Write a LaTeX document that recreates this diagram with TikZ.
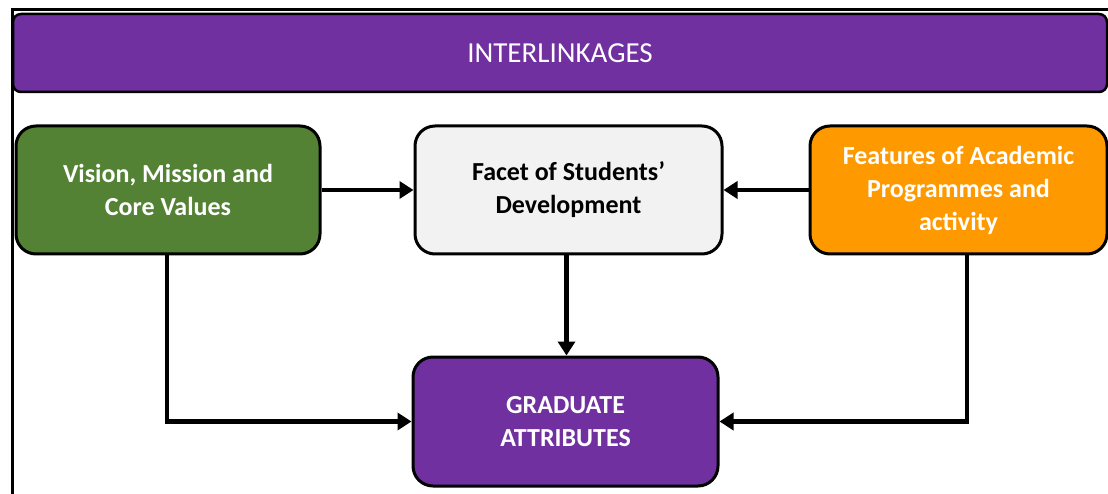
\documentclass[tikz,border=0pt]{standalone}
\usepackage{fontspec}
\setmainfont{Carlito}
\usetikzlibrary{arrows.meta}
\definecolor{hpurple}{HTML}{7030A0}
\definecolor{hgreen}{HTML}{548235}
\definecolor{horange}{HTML}{FF9900}
\definecolor{hgray}{HTML}{F2F2F2}
\begin{document}
\begin{tikzpicture}[x=1pt,y=-1pt,
  box/.style={draw=black, line width=3pt, rounded corners=20pt, align=center,
    font=\fontsize{26}{33}\selectfont\bfseries, inner sep=0pt},
  arr/.style={line width=4.5pt, -{Triangle[length=14pt,width=17pt]}},
  frame/.style={line width=3pt}]
\useasboundingbox (0,0) rectangle (1108,494);
\fill[white] (0,0) rectangle (1108,494);
\draw[frame] (12,494) -- (12,10) -- (1108,10);
\node[draw=black, line width=2.5pt, fill=hpurple, rounded corners=8pt, minimum width=1094pt, minimum height=78pt, inner sep=0pt,
  text=white, font=\fontsize{29}{32}\selectfont] (head) at (560,53) {INTERLINKAGES};
\node[box, fill=hgreen, text=white, minimum width=304pt, minimum height=128pt] (green) at (168,190) {Vision, Mission and\\Core Values};
\node[box, fill=hgray, text=black, minimum width=307pt, minimum height=128pt] (facet) at (568.5,190) {Facet of Students’\\Development};
\node[box, fill=horange, text=white, minimum width=297pt, minimum height=128pt] (orange) at (958.5,190) {\raisebox{-4pt}{Features of Academic}\\\raisebox{-4pt}{Programmes and}\\\raisebox{-4pt}{activity}};
\node[box, fill=hpurple, text=white, minimum width=305pt, minimum height=129pt] (grad) at (565.5,421.5) {GRADUATE\\ATTRIBUTES};
\draw[arr] (green.east) -- (facet.west);
\draw[arr] (orange.west) -- (facet.west -| facet.east);
\draw[arr] ([xshift=-2pt]facet.south) -- ([xshift=-2pt]facet.south |- grad.north);
\draw[arr] ([xshift=-1pt]green.south) |- (grad.west);
\draw[arr] ([xshift=8.5pt]orange.south) |- (grad.east);
\end{tikzpicture}
\end{document}
